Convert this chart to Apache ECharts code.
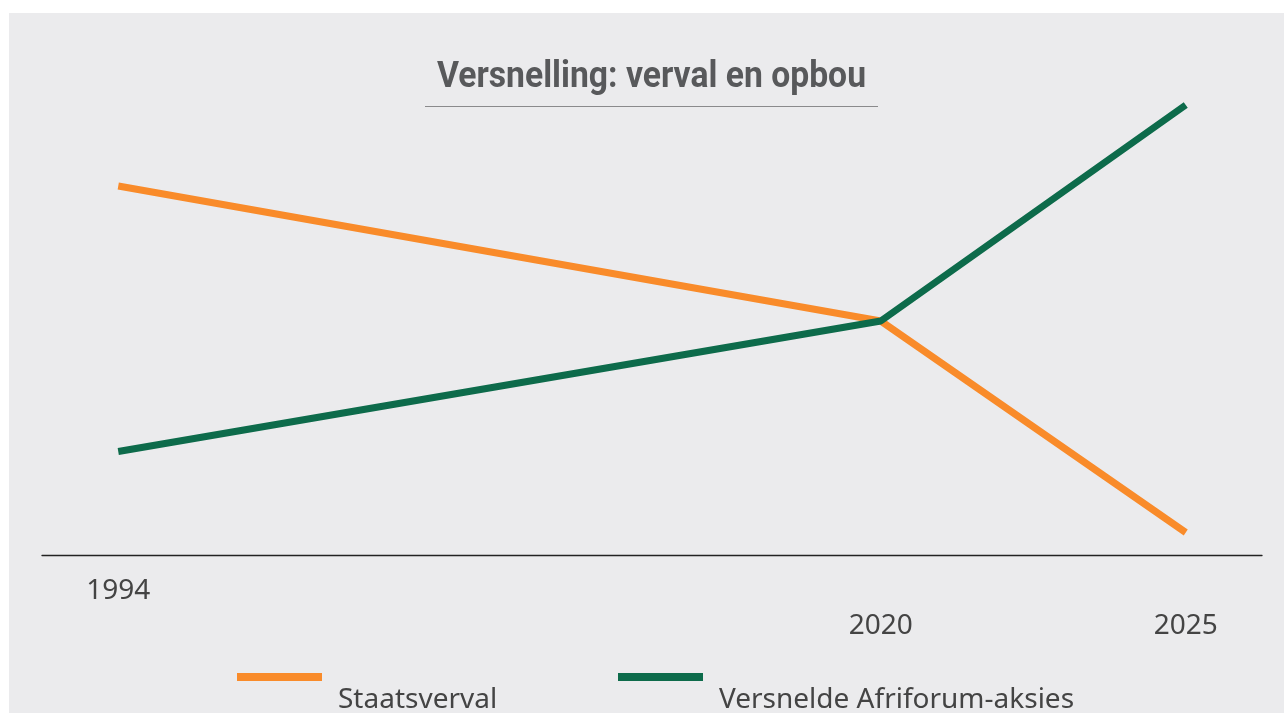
<!DOCTYPE html>
<html>
<head>
<meta charset="utf-8">
<script src="https://cdn.jsdelivr.net/npm/echarts@6/dist/echarts.min.js"></script>
<style>
html,body{margin:0;padding:0;background:#ffffff;}
#chart{width:1284px;height:713px;}
</style>
</head>
<body>
<div id="chart"></div>
<script>
const titleText = 'Versnelling: verval en opbou';
const years = ['1994', '2020', '2025'];
const xPos = [0, 10, 14];
const seriesNames = ['Staatsverval', 'Versnelde Afriforum-aksies'];
const staatsverval = [82, 52, 5];
const afriforum = [23, 52, 100];

const labelFont = '"Noto Sans", "Liberation Sans", sans-serif';
const titleFontStr = 'bold 36px Roboto, "Noto Sans", sans-serif';
const chart = echarts.init(document.getElementById('chart'), null, {renderer: 'canvas'});

function pairs(vals) { return vals.map((v, i) => [xPos[i], v]); }

// fit the (condensed-looking) title into the width used by the reference
const mctx = document.createElement('canvas').getContext('2d');
mctx.font = titleFontStr;
const titleScale = 429 / mctx.measureText(titleText).width;

function legendCfg(name, left) {
  return {
    data: [name], left: left, top: 657, padding: 0, icon: 'rect', itemWidth: 85, itemHeight: 8, itemGap: 0,
    formatter: function (n) { return '{sp| }\n{a|' + n + '}'; },
    textStyle: {
      rich: {
        sp: { fontSize: 10, lineHeight: 46 },
        a: { fontFamily: labelFont, fontSize: 28, color: '#444444', lineHeight: 30, padding: [0, 0, 0, 11] }
      }
    }
  };
}

chart.setOption({
  backgroundColor: '#ffffff',
  animation: false,
  graphic: [
    { type: 'rect', z: -10, silent: true, shape: { x: 9, y: 13, width: 1284, height: 713 }, style: { fill: '#ebebed' } },
    { type: 'line', silent: true, shape: { x1: 425, y1: 106.5, x2: 878, y2: 106.5 }, style: { stroke: '#8a8a8c', lineWidth: 1 } },
    {
      type: 'text', silent: true, x: 651.5, y: 78, scaleX: titleScale, scaleY: 1,
      style: { text: titleText, font: titleFontStr, fill: '#58595b', align: 'center', verticalAlign: 'middle' }
    }
  ],
  legend: [legendCfg(seriesNames[0], 237), legendCfg(seriesNames[1], 618)],
  grid: { left: 42, right: 22, top: 105, bottom: 158, containLabel: false },
  xAxis: {
    type: 'value', min: -1, max: 15,
    axisLine: { show: true, lineStyle: { color: '#222222', width: 1.3 } },
    axisTick: { show: false },
    splitLine: { show: false },
    axisLabel: {
      customValues: xPos,
      margin: 21,
      formatter: function (v) {
        const i = xPos.indexOf(v);
        if (i < 0) return '';
        return (i === 0 ? '{hi|' : '{lo|') + years[i] + '}';
      },
      rich: {
        hi: { fontFamily: labelFont, fontSize: 28, color: '#444444', lineHeight: 30 },
        lo: { fontFamily: labelFont, fontSize: 28, color: '#444444', lineHeight: 30, padding: [70, 0, 0, 0] }
      }
    }
  },
  yAxis: { type: 'value', min: 0, max: 100, show: false },
  series: [
    {
      name: seriesNames[0], type: 'line', data: pairs(staatsverval), showSymbol: false, symbol: 'none',
      lineStyle: { color: '#f98b2a', width: 7 }, itemStyle: { color: '#f98b2a' }, z: 2
    },
    {
      name: seriesNames[1], type: 'line', data: pairs(afriforum), showSymbol: false, symbol: 'none',
      lineStyle: { color: '#0d6b4b', width: 7 }, itemStyle: { color: '#0d6b4b' }, z: 3
    }
  ]
});
</script>
</body>
</html>
